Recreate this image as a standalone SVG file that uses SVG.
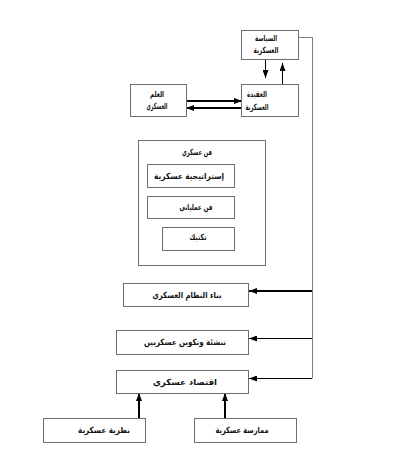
<svg xmlns="http://www.w3.org/2000/svg" width="400" height="449" viewBox="0 0 400 449">
<defs>
<style>
.b{fill:#fff;stroke:#6e6e6e;stroke-width:1}
.t{font-family:"DejaVu Sans",sans-serif;font-size:8.5px;font-weight:bold;fill:#111;text-anchor:middle}
.c{fill:none;stroke:#000;stroke-width:1}
.k{stroke-width:2}
.g{fill:none;stroke:#808080;stroke-width:1}
</style>
<marker id="a" viewBox="0 0 8 6" refX="8" refY="3" markerWidth="8" markerHeight="6" markerUnits="userSpaceOnUse" orient="auto"><path d="M0,0L8,3L0,6z" fill="#000"/></marker>
</defs>
<rect width="400" height="449" fill="#fff"/>
<g id="connectors">
<polyline class="g" points="298.5,37.5 312.5,37.5 312.5,378.5"/>
<line class="c" x1="265.5" y1="60" x2="265.5" y2="78" marker-end="url(#a)"/>
<line class="c" x1="282.5" y1="85" x2="282.5" y2="63" marker-end="url(#a)"/>
<line class="c k" x1="186" y1="101" x2="242" y2="101" marker-end="url(#a)"/>
<line class="c k" x1="242" y1="108" x2="186" y2="108" marker-end="url(#a)"/>
<line class="c k" x1="312" y1="291" x2="249" y2="291" marker-end="url(#a)"/>
<line class="c" x1="312" y1="338.5" x2="249" y2="338.5" marker-end="url(#a)"/>
<line class="c" x1="312" y1="378.5" x2="249" y2="378.5" marker-end="url(#a)"/>
<line class="c k" x1="139" y1="418" x2="139" y2="393" marker-end="url(#a)"/>
<line class="c k" x1="225" y1="418" x2="225" y2="393" marker-end="url(#a)"/>
</g>
<g id="siyasa"><rect class="b" x="241.5" y="30.5" width="57" height="29"/><text class="t" x="266" y="41" textLength="22" lengthAdjust="spacingAndGlyphs">السياسة</text><text class="t" x="266" y="53" textLength="25" lengthAdjust="spacingAndGlyphs">العسكرية</text></g>
<g id="aqida"><rect class="b" x="241.5" y="84.5" width="57" height="32"/><text class="t" x="257" y="97" textLength="20" lengthAdjust="spacingAndGlyphs">العقيدة</text><text class="t" x="257" y="110" textLength="23" lengthAdjust="spacingAndGlyphs">العسكرية</text></g>
<g id="ilm"><rect class="b" x="130.5" y="84.5" width="56" height="32"/><text class="t" x="157" y="97" textLength="14" lengthAdjust="spacingAndGlyphs">العلم</text><text class="t" x="157" y="109" textLength="21" lengthAdjust="spacingAndGlyphs">العسكري</text></g>
<g id="fann"><rect class="b" x="138.5" y="140.5" width="127" height="125"/><text class="t" x="197" y="155" textLength="30" lengthAdjust="spacingAndGlyphs">فن عسكري</text></g>
<g id="strategy"><rect class="b" x="147.5" y="164.5" width="87" height="23"/><text class="t" x="189" y="179" textLength="70" lengthAdjust="spacingAndGlyphs">إستراتيجية عسكرية</text></g>
<g id="operational"><rect class="b" x="147.5" y="196.5" width="87" height="22"/><text class="t" x="196" y="210" textLength="33" lengthAdjust="spacingAndGlyphs">فن عملياتي</text></g>
<g id="tactic"><rect class="b" x="162.5" y="227.5" width="72" height="23"/><text class="t" x="198" y="240" textLength="17" lengthAdjust="spacingAndGlyphs">تكتيك</text></g>
<g id="bina"><rect class="b" x="123.5" y="283.5" width="125" height="23"/><text class="t" x="187" y="298" textLength="69" lengthAdjust="spacingAndGlyphs">بناء النظام العسكري</text></g>
<g id="tanshia"><rect class="b" x="116.5" y="330.5" width="132" height="24"/><text class="t" x="185" y="345" textLength="82" lengthAdjust="spacingAndGlyphs">تنشئة وتكوين عسكريين</text></g>
<g id="iqtisad"><rect class="b" x="116.5" y="370.5" width="132" height="23"/><text class="t" x="185" y="385" textLength="64" lengthAdjust="spacingAndGlyphs">اقتصاد عسكري</text></g>
<g id="nazariya"><rect class="b" x="43.5" y="418.5" width="102" height="24"/><text class="t" x="104" y="433" textLength="52" lengthAdjust="spacingAndGlyphs">نظرية عسكرية</text></g>
<g id="mumarasa"><rect class="b" x="194.5" y="418.5" width="102" height="24"/><text class="t" x="242" y="433" textLength="53" lengthAdjust="spacingAndGlyphs">ممارسة عسكرية</text></g>
</svg>
